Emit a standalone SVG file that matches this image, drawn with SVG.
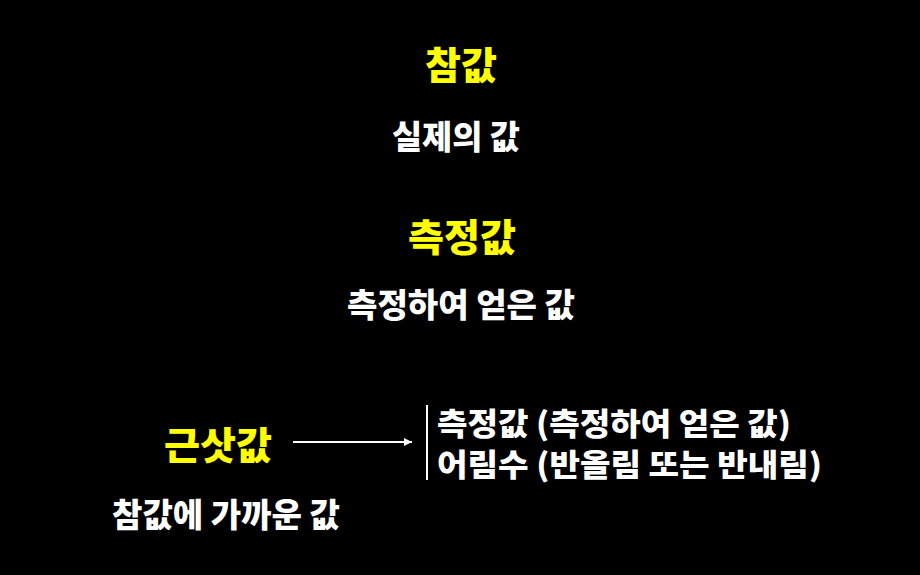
<svg xmlns="http://www.w3.org/2000/svg" width="920" height="575" viewBox="0 0 920 575">
<style>
text{font-family:"Noto Sans CJK KR","Noto Sans",sans-serif;font-weight:900;}
.title{fill:#FFFF00;font-size:38px;}
.body{fill:#FFFFFF;font-size:33px;}
.item{fill:#FFFFFF;font-size:31px;}
.conn{stroke:#FFFFFF;stroke-width:2;fill:none;}
</style>
<defs>
<marker id="arr" viewBox="0 0 10 10" refX="10" refY="5" markerWidth="9" markerHeight="8" orient="auto" markerUnits="userSpaceOnUse">
<path d="M0,0 L10,5 L0,10 z" fill="#FFFFFF"/>
</marker>
</defs>
<rect width="920" height="575" fill="#000000"/>
<g id="true-value">
<text class="title" x="425" y="79" textLength="72" lengthAdjust="spacingAndGlyphs">참값</text>
<text class="body" x="392" y="149" textLength="128" lengthAdjust="spacingAndGlyphs">실제의 값</text>
</g>
<g id="measured-value">
<text class="title" x="408" y="251" textLength="108" lengthAdjust="spacingAndGlyphs">측정값</text>
<text class="body" x="347" y="317" textLength="228" lengthAdjust="spacingAndGlyphs">측정하여 얻은 값</text>
</g>
<g id="approx-value">
<text class="title" x="164" y="459" textLength="108" lengthAdjust="spacingAndGlyphs">근삿값</text>
<text class="body" x="112" y="527" textLength="228" lengthAdjust="spacingAndGlyphs">참값에 가까운 값</text>
</g>
<g id="approx-kinds">
<text class="item" x="437" y="435" textLength="354" lengthAdjust="spacingAndGlyphs">측정값 (측정하여 얻은 값)</text>
<text class="item" x="437" y="476" textLength="385" lengthAdjust="spacingAndGlyphs">어림수 (반올림 또는 반내림)</text>
</g>
<g id="connectors">
<line class="conn" x1="293" y1="442" x2="412" y2="442" marker-end="url(#arr)"/>
<line class="conn" x1="427" y1="405" x2="427" y2="480"/>
</g>
</svg>
